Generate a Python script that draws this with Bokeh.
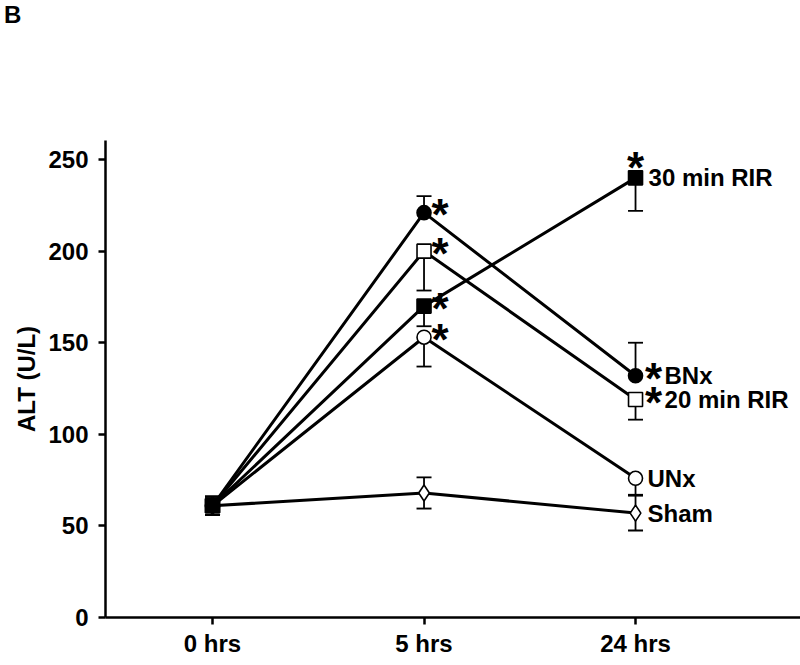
from bokeh.plotting import figure
from bokeh.models import Range1d, Whisker, ColumnDataSource, TeeHead, FixedTicker, Div
from bokeh.layouts import column
from bokeh.core.properties import value
from bokeh.embed import file_html
from bokeh.resources import INLINE

# ---- data ----
times = ["0 hrs", "5 hrs", "24 hrs"]
x_pos = [0, 1, 2]

sham = [61, 68, 57]
sham_hi = [5, 8.5, 9.5]
sham_lo = [5, 8.5, 9.5]

unx = [61, 153, 76]
unx_hi = [5, 0, 0]
unx_lo = [5, 16, 9]

rir20 = [61, 200, 119]
rir20_hi = [5, 0, 0]
rir20_lo = [5, 21.5, 11]

bnx = [61, 221, 132]
bnx_hi = [5, 9, 18]
bnx_lo = [5, 0, 0]

rir30 = [61, 170, 240]
rir30_hi = [5, 0, 0]
rir30_lo = [5, 11, 18]

y_ticks = [0, 50, 100, 150, 200, 250]
panel_letter = "B"

FONT = "Liberation Sans"
HEAD = 30

p = figure(width=800, height=665 - HEAD, output_backend="svg", toolbar_location=None,
           x_range=Range1d(-0.506, 2.78), y_range=Range1d(0, 260.4),
           min_border_left=105, min_border_right=0, min_border_top=140 - HEAD,
           min_border_bottom=48)
p.outline_line_color = None
p.grid.visible = False
p.background_fill_color = "white"

for ax in (p.xaxis, p.yaxis):
    ax.axis_line_width = 2.5
    ax.axis_line_color = "black"
    ax.major_tick_line_width = 2.5
    ax.major_tick_in = 0
    ax.major_tick_out = 7
    ax.minor_tick_line_color = None
    ax.major_label_text_font = FONT
    ax.major_label_text_font_style = "bold"
    ax.major_label_text_font_size = "24px"
    ax.major_label_text_color = "black"

p.xaxis.ticker = FixedTicker(ticks=x_pos)
p.xaxis.major_label_overrides = {x: t for x, t in zip(x_pos, times)}
p.xaxis.major_label_standoff = 5
p.yaxis.ticker = FixedTicker(ticks=y_ticks)
p.yaxis.major_label_standoff = 10
p.yaxis.axis_label = "ALT (U/L)"
p.yaxis.axis_label_text_font = FONT
p.yaxis.axis_label_text_font_style = "bold"
p.yaxis.axis_label_text_font_size = "24px"
p.yaxis.axis_label_text_color = "black"
p.yaxis.axis_label_standoff = 5

series = [
    ("Sham", sham, sham_hi, sham_lo, "diamond", "white", 16),
    ("UNx", unx, unx_hi, unx_lo, "circle", "white", 14),
    ("20 min RIR", rir20, rir20_hi, rir20_lo, "square", "white", 14),
    ("BNx", bnx, bnx_hi, bnx_lo, "circle", "black", 14),
    ("30 min RIR", rir30, rir30_hi, rir30_lo, "square", "black", 14),
]

# lines
for name, ys, hi, lo, mk, fill, sz in series:
    p.line(x_pos, ys, line_color="black", line_width=3)

# error bars
for name, ys, hi, lo, mk, fill, sz in series:
    ux = [x for x, e in zip(x_pos, hi) if e > 0]
    ub = [y for y, e in zip(ys, hi) if e > 0]
    ut = [y + e for y, e in zip(ys, hi) if e > 0]
    if ux:
        src = ColumnDataSource(dict(x=ux, base=ub, upper=ut))
        p.add_layout(Whisker(source=src, dimension="height", base="x", lower="base", upper="upper",
                             line_width=1.8, line_color="black",
                             upper_head=TeeHead(size=15, line_width=1.8, line_color="black"),
                             lower_head=None))
    lx = [x for x, e in zip(x_pos, lo) if e > 0]
    lb = [y for y, e in zip(ys, lo) if e > 0]
    lt = [y - e for y, e in zip(ys, lo) if e > 0]
    if lx:
        src = ColumnDataSource(dict(x=lx, base=lb, lower=lt))
        p.add_layout(Whisker(source=src, dimension="height", base="x", lower="lower", upper="base",
                             line_width=1.8, line_color="black",
                             lower_head=TeeHead(size=15, line_width=1.8, line_color="black"),
                             upper_head=None))

# markers
for name, ys, hi, lo, mk, fill, sz in series:
    p.scatter(x_pos, ys, marker=mk, size=sz, fill_color=fill, line_color="black", line_width=1.6)

# end labels at 24 hrs
lab_names = [s[0] for s in series]
lab_y = [s[1][2] for s in series]
lab_dx = [12, 12, 29, 29, 13]
p.text(x=[2] * len(series), y=lab_y, text=lab_names, x_offset=lab_dx, y_offset=0,
       text_font=value(FONT), text_font_style="bold", text_font_size="24px",
       text_baseline="middle", text_align="left", text_color="black")

# significance stars
star_x = [1, 1, 1, 1, 2, 2, 2]
star_y = [unx[1], rir20[1], bnx[1], rir30[1], rir20[2], bnx[2], rir30[2]]
star_dx = [16, 16, 16, 16, 18, 18, 0]
star_dy = [2, 2, 2, 2, 3, 3, -10]
p.text(x=star_x, y=star_y, text=["*"] * len(star_x), x_offset=star_dx, y_offset=star_dy,
       text_font=value(FONT), text_font_style="bold", text_font_size="44px",
       text_baseline="middle", text_align="center", text_color="black")

letter = Div(text=panel_letter, width=800, height=HEAD, margin=0,
             styles={"font-family": FONT, "font-weight": "bold", "font-size": "24px",
                     "line-height": f"{HEAD}px", "padding-left": "4px", "color": "black"})

layout = column(letter, p, spacing=0)
open("out.html", "w").write(file_html(layout, INLINE))
